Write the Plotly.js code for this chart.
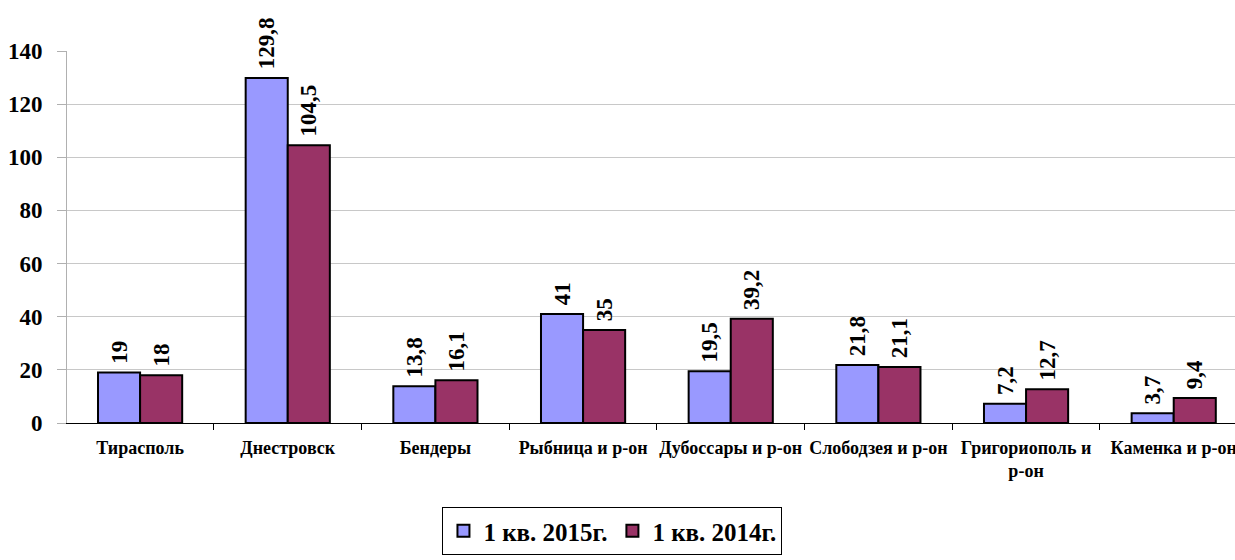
<!DOCTYPE html>
<html>
<head>
<meta charset="utf-8">
<script src="https://cdn.plot.ly/plotly-3.0.1.min.js"></script>
<style>html,body{margin:0;padding:0;background:#fff;}#chart{width:1235px;height:560px;}</style>
</head>
<body>
<div id="chart"></div>
<script>
var categories = ["Тирасполь", "Днестровск", "Бендеры", "Рыбница и р-он", "Дубоссары и р-он", "Слободзея и р-он", "Григориополь и<br>р-он", "Каменка и р-он"];
var series2015 = [19, 129.8, 13.8, 41, 19.5, 21.8, 7.2, 3.7];
var series2014 = [18, 104.5, 16.1, 35, 39.2, 21.1, 12.7, 9.4];
var seriesNames = ["1 кв. 2015г.", "1 кв. 2014г."];
var yTicks = [0, 20, 40, 60, 80, 100, 120, 140];

function fmt(v){ return '\u00a0' + String(v).replace('.', ','); }
var FONT = "Liberation Serif";

function makeTrace(vals, name, color){
  return {
    type: 'bar', x: categories, y: vals, name: name,
    marker: {color: color, line: {color: '#000', width: 2}},
    text: vals.map(fmt), textposition: 'outside', textangle: -90,
    constraintext: 'none', cliponaxis: false,
    textfont: {family: FONT, size: 23, color: '#000', weight: 'bold'}
  };
}

var data = [makeTrace(series2015, seriesNames[0], '#9999FF'), makeTrace(series2014, seriesNames[1], '#993366')];

var layout = {
  width: 1235, height: 560,
  margin: {l: 67, r: 0, t: 51, b: 137},
  paper_bgcolor: '#fff', plot_bgcolor: '#fff',
  bargap: 0.43, bargroupgap: 0,
  font: {family: FONT, color: '#000'},
  showlegend: true,
  legend: {
    orientation: 'h', x: 0.467, xanchor: 'center', y: -0.226, yanchor: 'top',
    bordercolor: '#000', borderwidth: 1,
    font: {family: FONT, size: 25, color: '#000', weight: 'bold'},
    itemsizing: 'constant', traceorder: 'normal'
  },
  xaxis: {
    type: 'category', range: [-0.495, 7.415],
    showline: true, linecolor: '#000', linewidth: 1,
    ticks: 'outside', tickson: 'boundaries', ticklen: 6, tickcolor: '#000',
    tickfont: {family: FONT, size: 18, color: '#000', weight: 'bold'},
    tickangle: 0, ticklabelstandoff: 8,
    showgrid: false, fixedrange: true
  },
  yaxis: {
    range: [0, 140], tickvals: yTicks, ticktext: yTicks.map(String),
    showline: true, linecolor: '#b0b0b0', linewidth: 1,
    ticks: 'outside', ticklen: 9, tickcolor: '#b0b0b0',
    showgrid: true, gridcolor: '#c8c8c8', gridwidth: 1,
    zeroline: false,
    tickfont: {family: FONT, size: 23, color: '#000', weight: 'bold'},
    ticklabelstandoff: 10, fixedrange: true
  }
};

Plotly.newPlot('chart', data, layout, {displayModeBar: false, staticPlot: true});
</script>
</body>
</html>
